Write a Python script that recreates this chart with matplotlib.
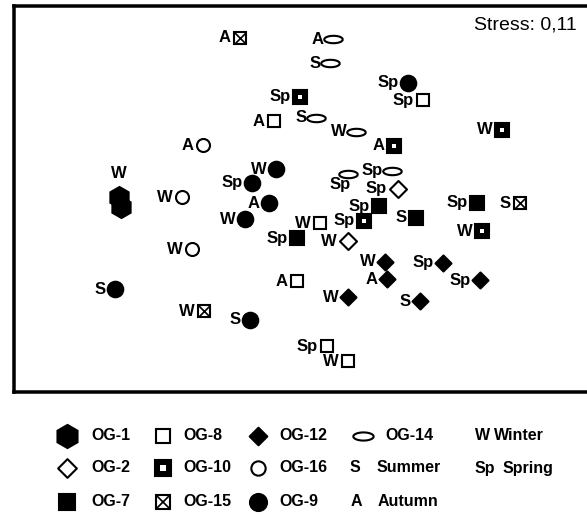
import matplotlib
matplotlib.use("Agg")
import matplotlib.pyplot as plt
import numpy as np
from matplotlib.path import Path

plt.rcParams['font.family'] = ['Liberation Sans', 'DejaVu Sans']

# NMDS ordination scores (plot units, axis 2 runs downward)
groups = ["OG-15", "OG-14", "OG-14", "OG-9", "OG-8", "OG-10", "OG-8", "OG-14", "OG-14", "OG-10",
          "OG-10", "OG-16", "OG-9", "OG-9", "OG-1", "OG-1", "OG-16", "OG-9", "OG-9", "OG-16",
          "OG-14", "OG-14", "OG-2", "OG-7", "OG-10", "OG-7", "OG-8", "OG-7", "OG-2", "OG-7",
          "OG-15", "OG-10", "OG-12", "OG-12", "OG-12", "OG-12", "OG-12", "OG-12", "OG-8", "OG-9",
          "OG-15", "OG-9", "OG-8", "OG-8"]
seasons = ["A", "A", "S", "Sp", "Sp", "Sp", "A", "S", "W", "A",
           "W", "A", "W", "Sp", "W", "", "W", "A", "W", "W",
           "Sp", "Sp", "Sp", "Sp", "Sp", "S", "W", "Sp", "W", "Sp",
           "S", "W", "W", "Sp", "A", "Sp", "W", "S", "A", "S",
           "W", "S", "Sp", "W"]
mds1 = [240, 333, 330, 408, 423, 300, 274, 316, 356, 394,
        502, 203, 276, 252, 119, 121, 182, 269, 245, 192,
        348, 392, 398, 379, 364, 416, 320, 297, 348, 477,
        520, 482, 385, 443, 387, 480, 348, 420, 297, 115,
        204, 250, 327, 348]
mds2 = [38, 39, 63, 83, 100, 97, 121, 118, 132, 146,
        130, 145, 169, 183, 197, 207, 197, 203, 219, 249,
        174, 171, 189, 206, 221, 218, 223, 238, 241, 203,
        203, 231, 262, 263, 279, 280, 297, 301, 281, 289,
        311, 320, 346, 361]

stress = "0,11"

legend_rows = [["OG-1", "OG-8", "OG-12", "OG-14"],
               ["OG-2", "OG-10", "OG-16"],
               ["OG-7", "OG-15", "OG-9"]]
season_names = [("W", "Winter"), ("S", "Summer"), ("Sp", "Spring"), ("A", "Autumn")]

PT = 0.72  # points per pixel at dpi 100

diamond = Path([(0, 1), (1, 0), (0, -1), (-1, 0), (0, 1)],
               [Path.MOVETO, Path.LINETO, Path.LINETO, Path.LINETO, Path.CLOSEPOLY])
t = np.linspace(0, 2 * np.pi, 60)
ellipse = Path(np.column_stack([np.cos(t), 0.4 * np.sin(t)]))

# marker look for each group: marker, size (px), filled, half width (px)
style = {
    "OG-1": ("h", 21, True, 9),
    "OG-2": (diamond, 17, False, 9),
    "OG-7": ("s", 14.5, True, 7),
    "OG-8": ("s", 12.5, False, 7),
    "OG-9": ("o", 15.5, True, 7.5),
    "OG-10": ("s", 14, True, 7),
    "OG-12": (diamond, 16, True, 7.5),
    "OG-14": (ellipse, 18.5, False, 9.5),
    "OG-15": ("s", 12.5, False, 7),
    "OG-16": ("o", 13, False, 7),
}


def draw_marker(ax, x, y, g, scale=1.0):
    m, s, filled, _ = style[g]
    ax.plot(x, y, marker=m, ms=s * PT * scale, mfc="k" if filled else "w",
            mec="k", mew=2.1 * PT, ls="none", clip_on=False, zorder=3)
    if g == "OG-10":
        ax.plot(x, y, marker="s", ms=5 * PT * scale, mfc="w", mec="w", mew=0,
                ls="none", clip_on=False, zorder=4)
    if g == "OG-15":
        ax.plot(x, y, marker="x", ms=11 * PT * scale, mec="k", mew=1.7 * PT,
                ls="none", clip_on=False, zorder=4)


fig = plt.figure(figsize=(5.87, 5.16), dpi=100)
ax = fig.add_axes([14 / 587, 124 / 516, 573 / 587, 386 / 516])
ax.set_xlim(14, 587)
ax.set_ylim(392, 6)
ax.set_xticks([])
ax.set_yticks([])
for side in ["left", "top", "bottom"]:
    ax.spines[side].set_linewidth(3.5 * PT)
ax.spines["right"].set_visible(False)

fs = 12
for g, s, x, y in zip(groups, seasons, mds1, mds2):
    draw_marker(ax, x, y, g)
    if not s:
        continue
    if g == "OG-1":
        ax.annotate(s, (x, y), xytext=(0, 16 * PT), textcoords="offset points",
                    ha="center", va="bottom", fontsize=fs, fontweight="bold")
    elif g == "OG-14" and s == "Sp" and x < 360:
        ax.annotate(s, (x, y), xytext=(-8 * PT, -11 * PT), textcoords="offset points",
                    ha="center", va="center", fontsize=fs, fontweight="bold")
    else:
        gap = 0 if g == "OG-14" else 2
        ax.annotate(s, (x, y), xytext=(-(style[g][3] + gap) * PT, 0),
                    textcoords="offset points", ha="right", va="center",
                    fontsize=fs, fontweight="bold")

ax.text(577, 25, "Stress: " + stress, ha="right", va="center", fontsize=14)

# legend block under the frame
lg = fig.add_axes([0, 0, 1, 124 / 516])
lg.set_xlim(0, 587)
lg.set_ylim(516, 392)
lg.axis("off")

row_y = [436, 468, 502]
col_x = [67, 163, 258, 363]
col_txt = [91, 183, 279, 385]
for r, row in enumerate(legend_rows):
    for c, g in enumerate(row):
        draw_marker(lg, col_x[c], row_y[r], g, scale=1.1)
        lg.text(col_txt[c], row_y[r], g, ha="left", va="center",
                fontsize=11.5, fontweight="bold")

season_pos = {"W": (475, 494, 0), "S": (350, 377, 1), "Sp": (475, 503, 1), "A": (351, 378, 2)}
for abbr, name in season_names:
    xa, xn, r = season_pos[abbr]
    lg.text(xa, row_y[r], abbr, ha="left", va="center", fontsize=11.5, fontweight="bold")
    lg.text(xn, row_y[r], name, ha="left", va="center", fontsize=11.5, fontweight="bold")

fig.savefig("out.png", dpi=100)
